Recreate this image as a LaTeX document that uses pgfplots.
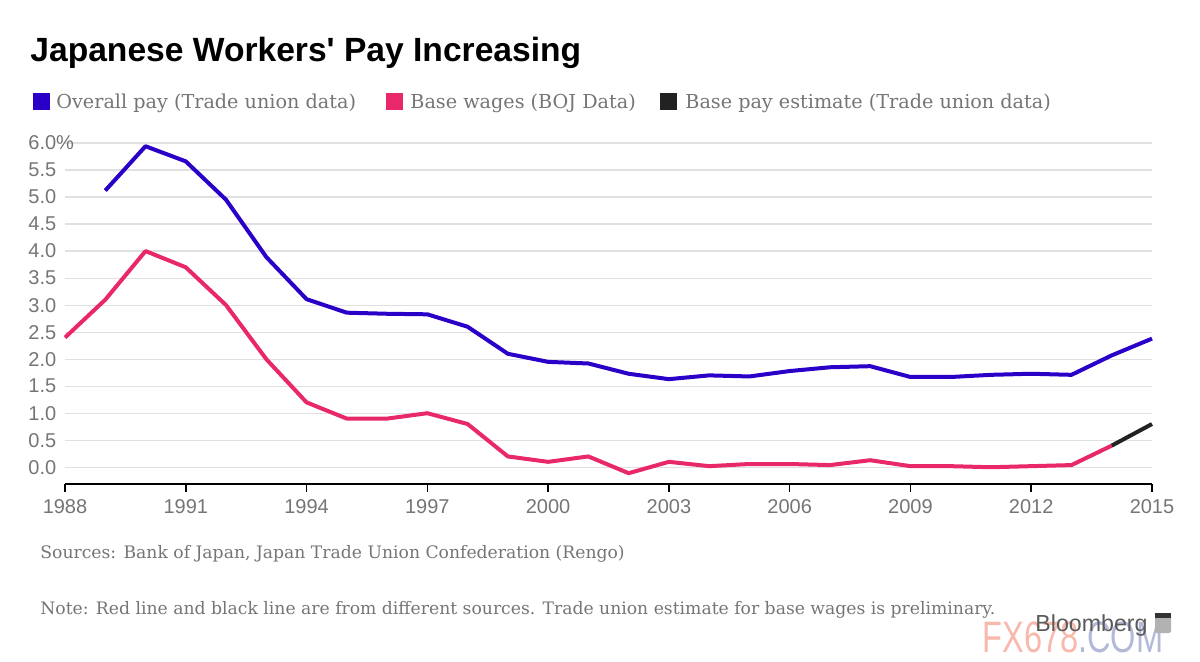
\documentclass[border=0pt]{standalone}
\usepackage{pgfplots}
\pgfplotsset{compat=1.18}
\usepackage{fontspec}
\setmainfont{DejaVu Serif}
\newfontfamily\sans{Liberation Sans}
\definecolor{cblue}{HTML}{2A00C8}
\definecolor{cpink}{HTML}{E8286A}
\definecolor{cblack}{HTML}{222222}
\definecolor{tgray}{HTML}{757575}
\definecolor{wmred}{HTML}{F6A090}
\definecolor{wmblue}{HTML}{9AA2CC}
\begin{document}
\begin{tikzpicture}[x=0.5pt,y=-0.5pt]
\path[use as bounding box] (0,0) rectangle (1200,662);
\node[anchor=base west, inner sep=0pt, font=\sans\bfseries\fontsize{16.8}{18}\selectfont] at (30,62) {Japanese Workers' Pay Increasing};
% legend
\fill[cblue] (33,93) rectangle (50,110);
\node[anchor=west, inner sep=0pt, text=tgray, font=\fontsize{9.6}{11}\selectfont] at (56,103) {Overall pay (Trade union data)};
\fill[cpink] (386,93) rectangle (403,110);
\node[anchor=west, inner sep=0pt, text=tgray, font=\fontsize{9.6}{11}\selectfont] at (410,103) {Base wages (BOJ Data)};
\fill[cblack] (660,93) rectangle (677,110);
\node[anchor=west, inner sep=0pt, text=tgray, font=\fontsize{9.6}{11}\selectfont] at (685,103) {Base pay estimate (Trade union data)};
\begin{axis}[
  at={(32.5pt,-242pt)}, anchor=south west,
  scale only axis, width=543.5pt, height=170.5pt,
  xmin=1988, xmax=2015, ymin=-0.31, ymax=6.0,
  clip=false,
  axis x line*=bottom, axis y line*=left,
  y axis line style={draw=none},
  x axis line style={black, line width=0.8pt, -},
  xtick={1988,1991,1994,1997,2000,2003,2006,2009,2012,2015},
  xticklabels={1988,1991,1994,1997,2000,2003,2006,2009,2012,2015},
  ytick={0,0.5,1,1.5,2,2.5,3,3.5,4,4.5,5,5.5,6},
  yticklabels={0.0,0.5,1.0,1.5,2.0,2.5,3.0,3.5,4.0,4.5,5.0,5.5,6.0\%},
  ymajorgrids, grid style={black!12, line width=0.6pt},
  ytick style={draw=none},
  xtick style={black, line width=0.8pt},
  tick align=outside, major tick length=4pt,
  tick label style={font=\sans\fontsize{10}{11}\selectfont, text=tgray},
  yticklabel style={anchor=west, xshift=-14.5pt, inner sep=0pt},
  xticklabel style={yshift=0pt},
]
\addplot[cblue, line width=2pt, line join=round] coordinates {
(1989,5.12) (1990,5.94) (1991,5.66) (1992,4.95) (1993,3.89) (1994,3.11)
(1995,2.86) (1996,2.84) (1997,2.83) (1998,2.60) (1999,2.10) (2000,1.95)
(2001,1.92) (2002,1.73) (2003,1.63) (2004,1.70) (2005,1.68) (2006,1.78)
(2007,1.85) (2008,1.87) (2009,1.67) (2010,1.67) (2011,1.71) (2012,1.73)
(2013,1.71) (2014,2.07) (2015,2.38)};
\addplot[cpink, line width=2pt, line join=round] coordinates {
(1988,2.40) (1989,3.10) (1990,4.00) (1991,3.70) (1992,3.00) (1993,2.00)
(1994,1.20) (1995,0.90) (1996,0.90) (1997,1.00) (1998,0.80) (1999,0.20)
(2000,0.10) (2001,0.20) (2002,-0.11) (2003,0.10) (2004,0.02) (2005,0.06)
(2006,0.06) (2007,0.04) (2008,0.13) (2009,0.02) (2010,0.02) (2011,0.00)
(2012,0.02) (2013,0.04) (2014,0.40)};
\addplot[cblack, line width=2pt] coordinates {(2014,0.40) (2015,0.80)};
\end{axis}
\node[anchor=base west, inner sep=0pt, text=tgray, font=\fontsize{8.6}{10}\selectfont] at (40,559) {Sources: Bank of Japan, Japan Trade Union Confederation (Rengo)};
\node[anchor=base west, inner sep=0pt, text=tgray, font=\fontsize{8.6}{10}\selectfont] at (40,614) {Note: Red line and black line are from different sources. Trade union estimate for base wages is preliminary.};
\node[anchor=base west, inner sep=0pt, opacity=0.75, font=\sans\fontsize{22}{24}\selectfont] at (982,653) {\scalebox{0.74}[1]{\textcolor{wmred}{FX678}\textcolor{wmblue}{.COM}}};
\node[anchor=base west, inner sep=0pt, text=black!65, font=\sans\fontsize{11.6}{13}\selectfont] at (1035,632) {Bloomberg};
\fill[black!30, rounded corners=1pt] (1155,613) rectangle (1171,633);
\fill[black!80] (1155,613) rectangle (1171,618);
\end{tikzpicture}
\end{document}
